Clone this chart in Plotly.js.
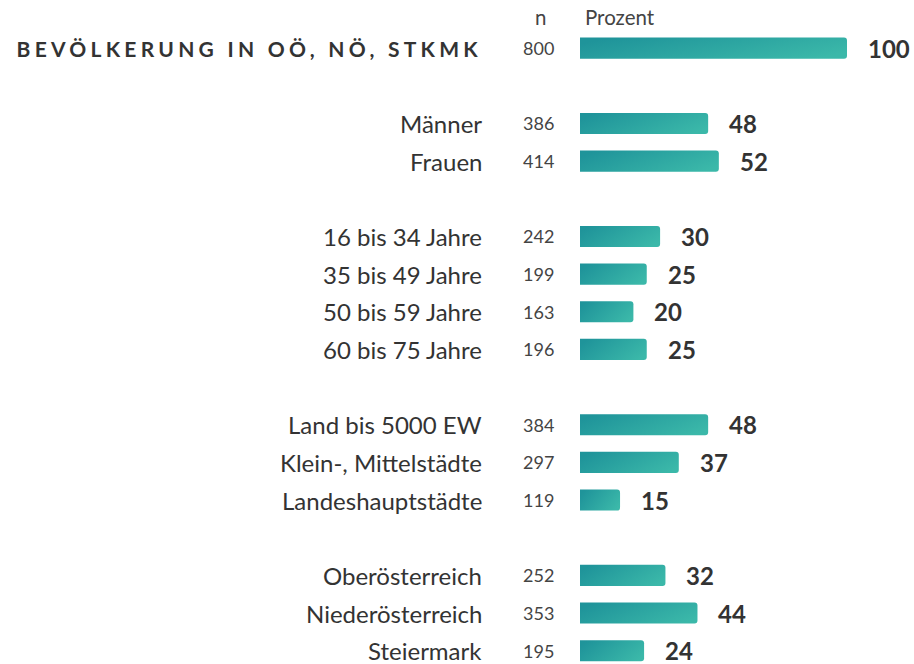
<!DOCTYPE html>
<html>
<head>
<meta charset="utf-8">
<script src="https://cdn.plot.ly/plotly-3.0.1.min.js"></script>
<style>
html,body{margin:0;padding:0;background:#fff;}
#chart{width:914px;height:664px;}
</style>
</head>
<body>
<div id="chart"></div>
<script>
// Data
const categories = ["BEVÖLKERUNG IN OÖ, NÖ, STKMK", "Männer", "Frauen", "16 bis 34 Jahre", "35 bis 49 Jahre", "50 bis 59 Jahre", "60 bis 75 Jahre", "Land bis 5000 EW", "Klein-, Mittelstädte", "Landeshauptstädte", "Oberösterreich", "Niederösterreich", "Steiermark"];
const rowIndex = [0, 2, 3, 5, 6, 7, 8, 10, 11, 12, 14, 15, 16];
const nValues = [800, 386, 414, 242, 199, 163, 196, 384, 297, 119, 252, 353, 195];
const percent = [100, 48, 52, 30, 25, 20, 25, 48, 37, 15, 32, 44, 24];
const headerN = "n";
const headerP = "Prozent";

const FONT = "Lato, 'Open Sans', sans-serif";
const TXT = "#333333";
const plotL = 580, plotW = 267, plotT = 18, plotB = 2;
const plotH = 664 - plotT - plotB;
const px = p => (p - plotL) / plotW;
const py = p => 1 - (p - plotT) / plotH;

const annotations = [];
categories.forEach((c, i) => {
  const isHead = i === 0;
  annotations.push({
    xref: "paper", yref: "y", x: px(isHead ? 482 : 484), y: rowIndex[i], text: isHead ? "<b>" + c + "</b>" : c,
    xanchor: "right", yanchor: "middle", showarrow: false,
    font: {family: FONT, size: isHead ? 21 : 24, color: TXT}
  });
  annotations.push({
    xref: "paper", yref: "y", x: px(538), y: rowIndex[i], text: String(nValues[i]),
    xanchor: "center", yanchor: "middle", showarrow: false,
    font: {family: FONT, size: 18, color: "#444444"}
  });
  annotations.push({
    xref: "x", yref: "y", x: percent[i], y: rowIndex[i], text: "<b>" + percent[i] + "</b>",
    xanchor: "left", yanchor: "middle", showarrow: false, xshift: 19,
    font: {family: FONT, size: 24, color: TXT}
  });
});
annotations.push({xref: "paper", yref: "paper", x: px(540), y: py(17), text: headerN, xanchor: "center", yanchor: "middle", showarrow: false, font: {family: FONT, size: 20.5, color: "#444444"}});
annotations.push({xref: "paper", yref: "paper", x: px(583), y: py(17), text: headerP, xanchor: "left", yanchor: "middle", showarrow: false, font: {family: FONT, size: 20.5, color: "#444444"}});

const trace = {
  type: "bar", orientation: "h",
  x: percent, y: rowIndex, width: 0.56,
  marker: {color: "#2ba5a1", cornerradius: 3, line: {width: 0}},
  hoverinfo: "none"
};

const layout = {
  width: 914, height: 664,
  margin: {l: plotL, r: 914 - plotL - plotW, t: plotT, b: plotB},
  paper_bgcolor: "#ffffff", plot_bgcolor: "#ffffff",
  showlegend: false,
  xaxis: {range: [0, 100], visible: false, fixedrange: true},
  yaxis: {range: [16.3, -0.8], visible: false, fixedrange: true},
  annotations: annotations,
  font: {family: FONT}
};

Plotly.newPlot("chart", [trace], layout, {displayModeBar: false, staticPlot: true}).then(gd => {
  const svg = gd.querySelector("svg.main-svg");
  const ns = "http://www.w3.org/2000/svg";
  let defs = svg.querySelector("defs");
  if (!defs) { defs = document.createElementNS(ns, "defs"); svg.insertBefore(defs, svg.firstChild); }
  const lg = document.createElementNS(ns, "linearGradient");
  lg.setAttribute("id", "barGrad");
  lg.setAttribute("x1", "0"); lg.setAttribute("y1", "0.3");
  lg.setAttribute("x2", "1"); lg.setAttribute("y2", "0.7");
  [["0%", "#1f949a"], ["100%", "#3bb8a9"]].forEach(([o, c]) => {
    const s = document.createElementNS(ns, "stop");
    s.setAttribute("offset", o); s.setAttribute("stop-color", c);
    lg.appendChild(s);
  });
  defs.appendChild(lg);
  gd.querySelectorAll(".bars .point path").forEach(p => { p.style.fill = "url(#barGrad)"; });
  // letter spacing for header title
  gd.querySelectorAll(".annotation-text").forEach(t => {
    if (t.textContent === categories[0]) {
      const before = t.getBBox();
      t.style.letterSpacing = "4.25px";
      const after = t.getBBox();
      const right = before.x + before.width;
      const shift = right - (after.x + after.width) + 2;
      t.setAttribute("transform", "translate(" + shift + ",0)");
    }
  });
});
</script>
</body>
</html>
